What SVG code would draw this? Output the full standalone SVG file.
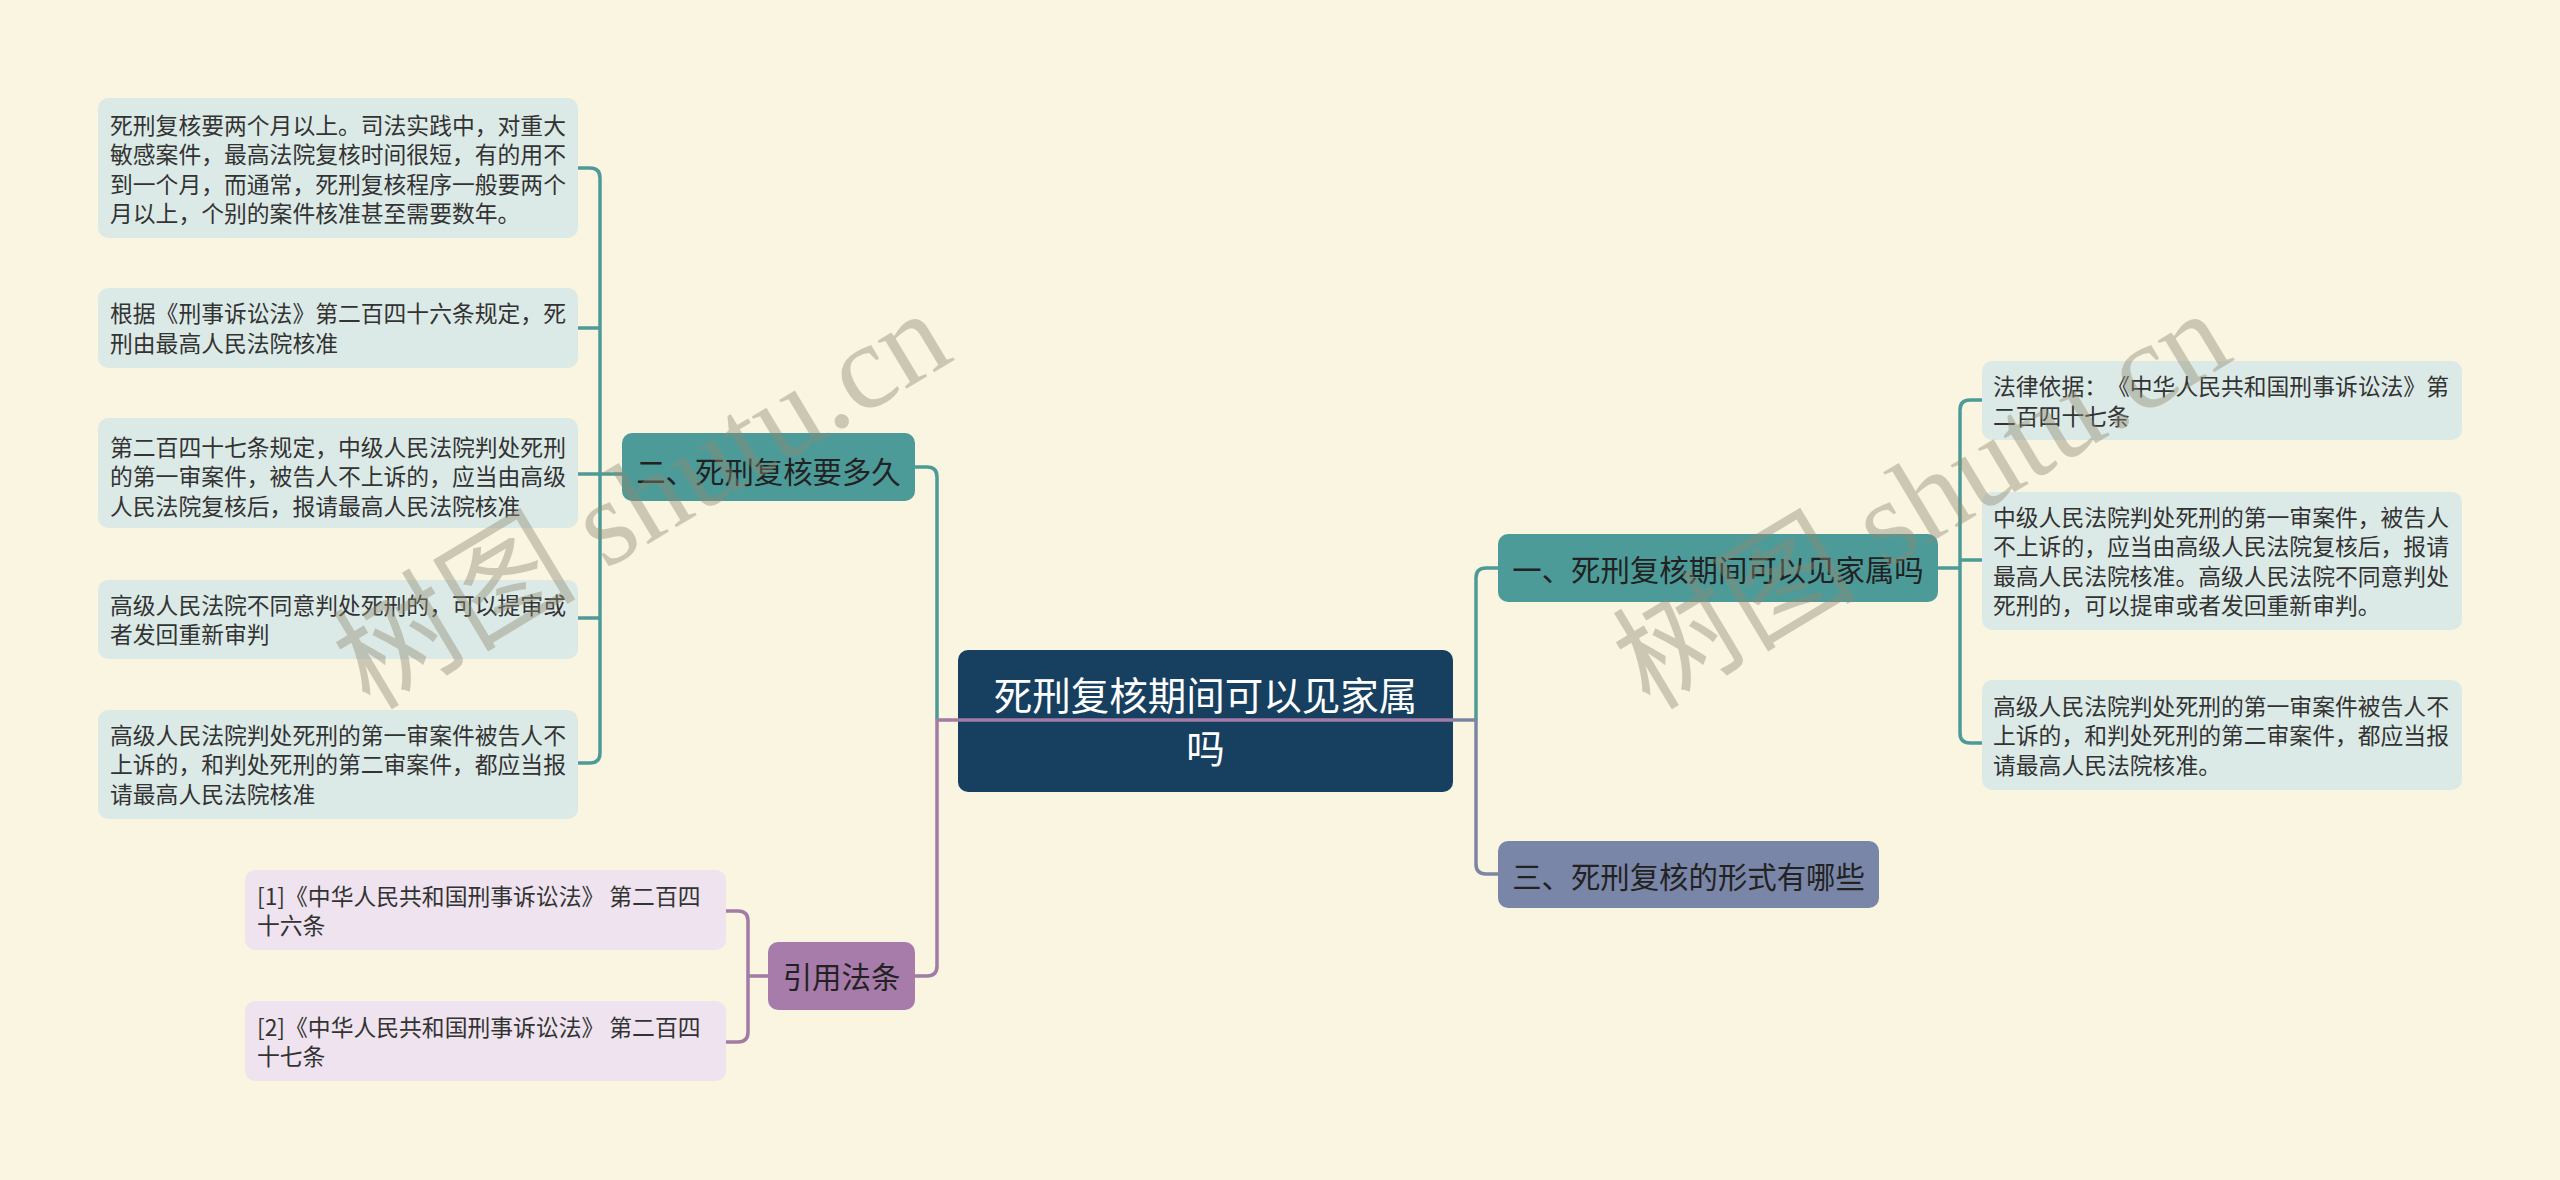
<svg xmlns="http://www.w3.org/2000/svg" width="2560" height="1180" viewBox="0 0 2560 1180">
<style>
text{font-family:"Noto Sans CJK SC","Liberation Sans",sans-serif;text-spacing-trim:space-all}
.leaf{font-size:22.8px;fill:#333}
.br{font-size:29.4px;fill:#222;text-anchor:middle}
.root{font-size:38.5px;fill:#fff;text-anchor:middle}
.tl{fill:#DCEAE7}
.pl{fill:#EEE3EE}
.con{fill:none;stroke-width:3.5;stroke-linejoin:round}
.ct{stroke:#4E9A96}
.cp{stroke:#A27BA6}
.cg{stroke:#7C86A3}
.wm{font-family:"Liberation Serif","Noto Sans CJK SC",serif;font-size:122px;fill:#8f8a72;opacity:0.42}
</style>
<rect width="2560" height="1180" fill="#FAF5E1"/>

<g id="root">
<rect x="958" y="650" width="495" height="142" rx="10" fill="#173F5F"/>
<text class="root" x="1205.5" y="709.5">死刑复核期间可以见家属</text>
<text class="root" x="1205.5" y="762.5">吗</text>
</g>

<g id="connectors">
<path class="con ct" d="M915,467 H927 Q937,467 937,477 V720"/>
<path class="con cp" d="M1453,720 H937 V966 Q937,976 927,976 H915"/>
<path class="con ct" d="M1476,720 V578 Q1476,568 1486,568 H1498"/>
<path class="con cg" d="M1453,720 H1476 V864 Q1476,874 1486,874 H1498"/>
<path class="con ct" d="M578,168 H590 Q600,168 600,178 V753 Q600,763 590,763 H578"/>
<path class="con ct" d="M578,328 H600 M578,474 H622 M578,618 H600"/>
<path class="con cp" d="M726,911 H738 Q748,911 748,921 V1032 Q748,1042 738,1042 H726 M748,976 H768"/>
<path class="con ct" d="M1938,568 H1960"/>
<path class="con ct" d="M1982,400 H1970 Q1960,400 1960,410 V733 Q1960,743 1970,743 H1982 M1960,560 H1982"/>
</g>

<g id="branch-2">
<rect x="622" y="433" width="293" height="68" rx="10" fill="#4D9B99"/>
<text class="br" x="768.5" y="483">二、死刑复核要多久</text>
</g>
<g id="branch-cite">
<rect x="768" y="942" width="147" height="68" rx="10" fill="#A77BAA"/>
<text class="br" x="841.5" y="988">引用法条</text>
</g>
<g id="branch-1">
<rect x="1498" y="534" width="440" height="68" rx="10" fill="#4D9B99"/>
<text class="br" x="1718" y="581">一、死刑复核期间可以见家属吗</text>
</g>
<g id="branch-3">
<rect x="1498" y="841" width="381" height="67" rx="10" fill="#7A86A7"/>
<text class="br" x="1688.5" y="888">三、死刑复核的形式有哪些</text>
</g>

<g id="leaf-l1">
<rect class="tl" x="98" y="98" width="480" height="140" rx="10"/>
<text class="leaf" x="110" y="133.5">死刑复核要两个月以上。司法实践中，对重大</text>
<text class="leaf" x="110" y="163">敏感案件，最高法院复核时间很短，有的用不</text>
<text class="leaf" x="110" y="192.5">到一个月，而通常，死刑复核程序一般要两个</text>
<text class="leaf" x="110" y="222">月以上，个别的案件核准甚至需要数年。</text>
</g>
<g id="leaf-l2">
<rect class="tl" x="98" y="288" width="480" height="80" rx="10"/>
<text class="leaf" x="110" y="322">根据《刑事诉讼法》第二百四十六条规定，死</text>
<text class="leaf" x="110" y="351.5">刑由最高人民法院核准</text>
</g>
<g id="leaf-l3">
<rect class="tl" x="98" y="418" width="480" height="110" rx="10"/>
<text class="leaf" x="110" y="455.5">第二百四十七条规定，中级人民法院判处死刑</text>
<text class="leaf" x="110" y="485">的第一审案件，被告人不上诉的，应当由高级</text>
<text class="leaf" x="110" y="514.5">人民法院复核后，报请最高人民法院核准</text>
</g>
<g id="leaf-l4">
<rect class="tl" x="98" y="580" width="480" height="79" rx="10"/>
<text class="leaf" x="110" y="613.5">高级人民法院不同意判处死刑的，可以提审或</text>
<text class="leaf" x="110" y="643">者发回重新审判</text>
</g>
<g id="leaf-l5">
<rect class="tl" x="98" y="710" width="480" height="109" rx="10"/>
<text class="leaf" x="110" y="743.5">高级人民法院判处死刑的第一审案件被告人不</text>
<text class="leaf" x="110" y="773">上诉的，和判处死刑的第二审案件，都应当报</text>
<text class="leaf" x="110" y="802.5">请最高人民法院核准</text>
</g>
<g id="leaf-c1">
<rect class="pl" x="245" y="870" width="481" height="80" rx="10"/>
<text class="leaf" x="257" y="904.5">[1]《中华人民共和国刑事诉讼法》 第二百四</text>
<text class="leaf" x="257" y="934">十六条</text>
</g>
<g id="leaf-c2">
<rect class="pl" x="245" y="1001" width="481" height="80" rx="10"/>
<text class="leaf" x="257" y="1035.5">[2]《中华人民共和国刑事诉讼法》 第二百四</text>
<text class="leaf" x="257" y="1065">十七条</text>
</g>
<g id="leaf-r1">
<rect class="tl" x="1982" y="361" width="480" height="79" rx="10"/>
<text class="leaf" x="1993" y="395">法律依据：《中华人民共和国刑事诉讼法》第</text>
<text class="leaf" x="1993" y="424.5">二百四十七条</text>
</g>
<g id="leaf-r2">
<rect class="tl" x="1982" y="492" width="480" height="138" rx="10"/>
<text class="leaf" x="1993" y="526">中级人民法院判处死刑的第一审案件，被告人</text>
<text class="leaf" x="1993" y="555">不上诉的，应当由高级人民法院复核后，报请</text>
<text class="leaf" x="1993" y="584.5">最高人民法院核准。高级人民法院不同意判处</text>
<text class="leaf" x="1993" y="614">死刑的，可以提审或者发回重新审判。</text>
</g>
<g id="leaf-r3">
<rect class="tl" x="1982" y="680" width="480" height="110" rx="10"/>
<text class="leaf" x="1993" y="714.5">高级人民法院判处死刑的第一审案件被告人不</text>
<text class="leaf" x="1993" y="744">上诉的，和判处死刑的第二审案件，都应当报</text>
<text class="leaf" x="1993" y="773.5">请最高人民法院核准。</text>
</g>

<g id="watermark">
<text class="wm" x="645" y="540" text-anchor="middle" transform="rotate(-31 645 505)">树图 shutu.cn</text>
<text class="wm" x="1925" y="540" text-anchor="middle" transform="rotate(-31 1925 505)">树图 shutu.cn</text>
</g>
</svg>
